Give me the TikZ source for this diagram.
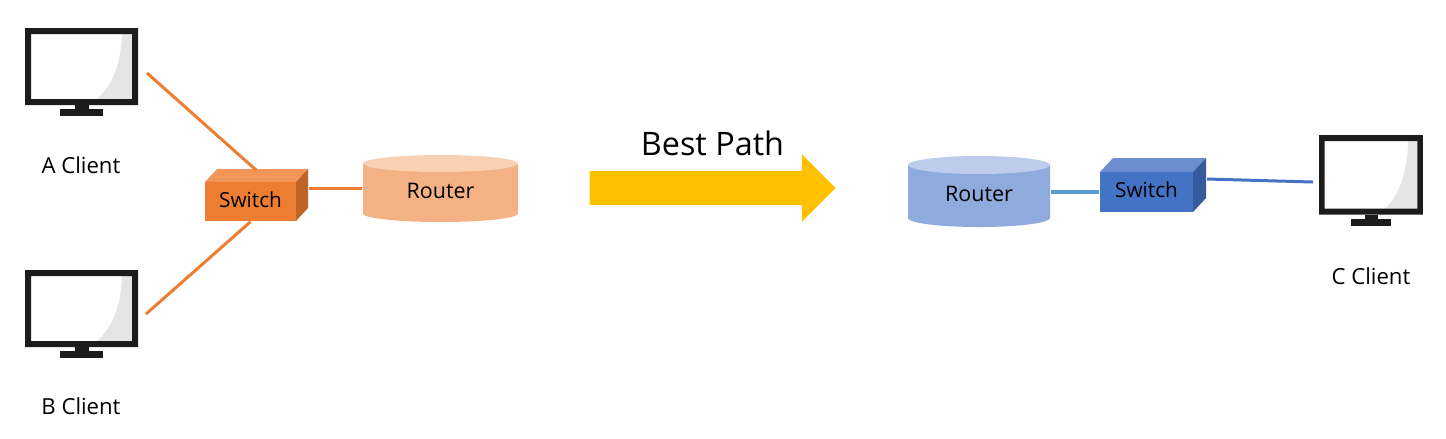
\documentclass[tikz,border=0pt]{standalone}
\usepackage{fontspec}
\setmainfont{Open Sans}
\usetikzlibrary{shapes.arrows}

\definecolor{swOrange}{HTML}{ED7D31}
\definecolor{swOrangeTop}{HTML}{F19559}
\definecolor{swOrangeSide}{HTML}{BE6427}
\definecolor{rtOrange}{HTML}{F4B183}
\definecolor{rtOrangeTop}{HTML}{F8D0B4}
\definecolor{swBlue}{HTML}{4472C4}
\definecolor{swBlueTop}{HTML}{6A8ED0}
\definecolor{swBlueSide}{HTML}{365B9D}
\definecolor{rtBlue}{HTML}{8FAADC}
\definecolor{rtBlueTop}{HTML}{BCCCEA}
\definecolor{linkBlue}{HTML}{5B9BD5}
\definecolor{monBlack}{HTML}{1C1C1C}
\definecolor{monGlare}{HTML}{E5E5E5}
\definecolor{pathGold}{HTML}{FFC000}

% Monitor drawing: left, top, x scale, y scale
\newcommand{\clientmonitor}[4]{
    \begin{scope}[shift={(#1,#2)},xscale=#3,yscale=#4]
        \fill[white] (6,6) rectangle (107,71);
        \fill[monGlare] (97,6) .. controls (96,35) and (88,57) .. (72,71) -- (107,71) -- (107,6) -- cycle;
        \fill[monBlack,even odd rule] (0,0) rectangle (113,77) (6,6) rectangle (107,71);
        \fill[monBlack] (50,77) rectangle (64,81);
        \fill[monBlack] (35,81) rectangle (78,88);
    \end{scope}
}
% Switch side faces: left, right, back x, top, front top, bottom, top colour, side colour
\newcommand{\switchfaces}[8]{
    \fill[#7] (#1,#5) -- (#3-#2+#1,#4) -- (#3,#4) -- (#2,#5) -- cycle;
    \fill[#8] (#2,#5) -- (#3,#4) -- (#3,#6-#5+#4) -- (#2,#6) -- cycle;
}
% Router drum: centre x, x radius, lid centre y, base centre y, y radius, body colour, lid colour
\newcommand{\routerdrum}[7]{
    \fill[#6] (#1-#2,#3) -- (#1-#2,#4) arc[start angle=180,end angle=360,x radius=#2,y radius=-#5] -- (#1+#2,#3) -- cycle;
    \fill[#7] (#1,#3) ellipse[x radius=#2,y radius=#5];
}

\tikzset{
    label/.style={font=\fontsize{6.3pt}{8pt}\selectfont,inner sep=0pt},
    switchlabel/.style={font=\fontsize{5.9pt}{8pt}\selectfont,inner sep=0pt},
    routerlabel/.style={font=\fontsize{6.1pt}{8pt}\selectfont,inner sep=0pt},
    orangelink/.style={draw=swOrange,line width=0.85pt},
    bluelink/.style={draw=swBlue,line width=0.85pt},
    lightlink/.style={draw=linkBlue,line width=0.95pt},
}

\begin{document}
\begin{tikzpicture}[x=0.01cm,y=-0.01cm]
    \useasboundingbox (0,0) rectangle (1446,438);

    % Client monitors
    \clientmonitor{25}{28}{1}{1}
    \clientmonitor{25}{270}{1}{1}
    \clientmonitor{1319}{135}{0.92}{1.035}
    \node[label] (labelA) at (81,165) {A Client};
    \node[label] (labelB) at (81,406) {B Client};
    \node[label] (labelC) at (1371,276) {C Client};

    % Left switch and router
    \switchfaces{205}{296}{308}{169}{182}{221}{swOrangeTop}{swOrangeSide}
    \node[switchlabel,fill=swOrange,text depth=0.84pt,minimum width=0.91cm,minimum height=0.39cm] (switchA) at (250.5,201.5) {Switch};
    \routerdrum{440.5}{77.5}{163.5}{213.5}{8.5}{rtOrange}{rtOrangeTop}
    \node[routerlabel,minimum width=1.55cm] (routerA) at (440.5,190.5) {Router};

    % Right router and switch
    \routerdrum{979}{71}{165}{218}{9}{rtBlue}{rtBlueTop}
    \node[routerlabel,minimum width=1.42cm] (routerC) at (979,194) {Router};
    \switchfaces{1100}{1193}{1206}{158}{172}{212}{swBlueTop}{swBlueSide}
    \node[switchlabel,fill=swBlue,text depth=1.14pt,minimum width=0.93cm,minimum height=0.40cm] (switchC) at (1146.5,192) {Switch};

    % Free ends of the links
    \coordinate (endA) at (147,73);
    \coordinate (endB) at (146,314);
    \coordinate (endC) at (1313,182);
    \coordinate (topA) at (256,170);
    \coordinate (sideA) at (309,188.5);
    \coordinate (sideC) at (1207,179);

    % Links
    \draw[orangelink] (endA) -- (topA);
    \draw[orangelink] (endB) -- (switchA.south);
    \draw[orangelink] (sideA) -- (sideA -| routerA.west);
    \draw[lightlink] (switchC.west) -- (switchC.west -| routerC.east);
    \draw[bluelink] (sideC) -- (endC);

    % Best path arrow
    \node[single arrow,fill=pathGold,inner xsep=0pt,inner ysep=0.165cm,minimum height=2.46cm,
        single arrow head extend=0.165cm,single arrow head indent=0pt,single arrow tip angle=90] (bestArrow) at (704,188) {};
    \node[font=\fontsize{9.2pt}{11pt}\selectfont,inner sep=0pt] (bestLabel) at (712.5,143) {Best Path};
\end{tikzpicture}
\end{document}
